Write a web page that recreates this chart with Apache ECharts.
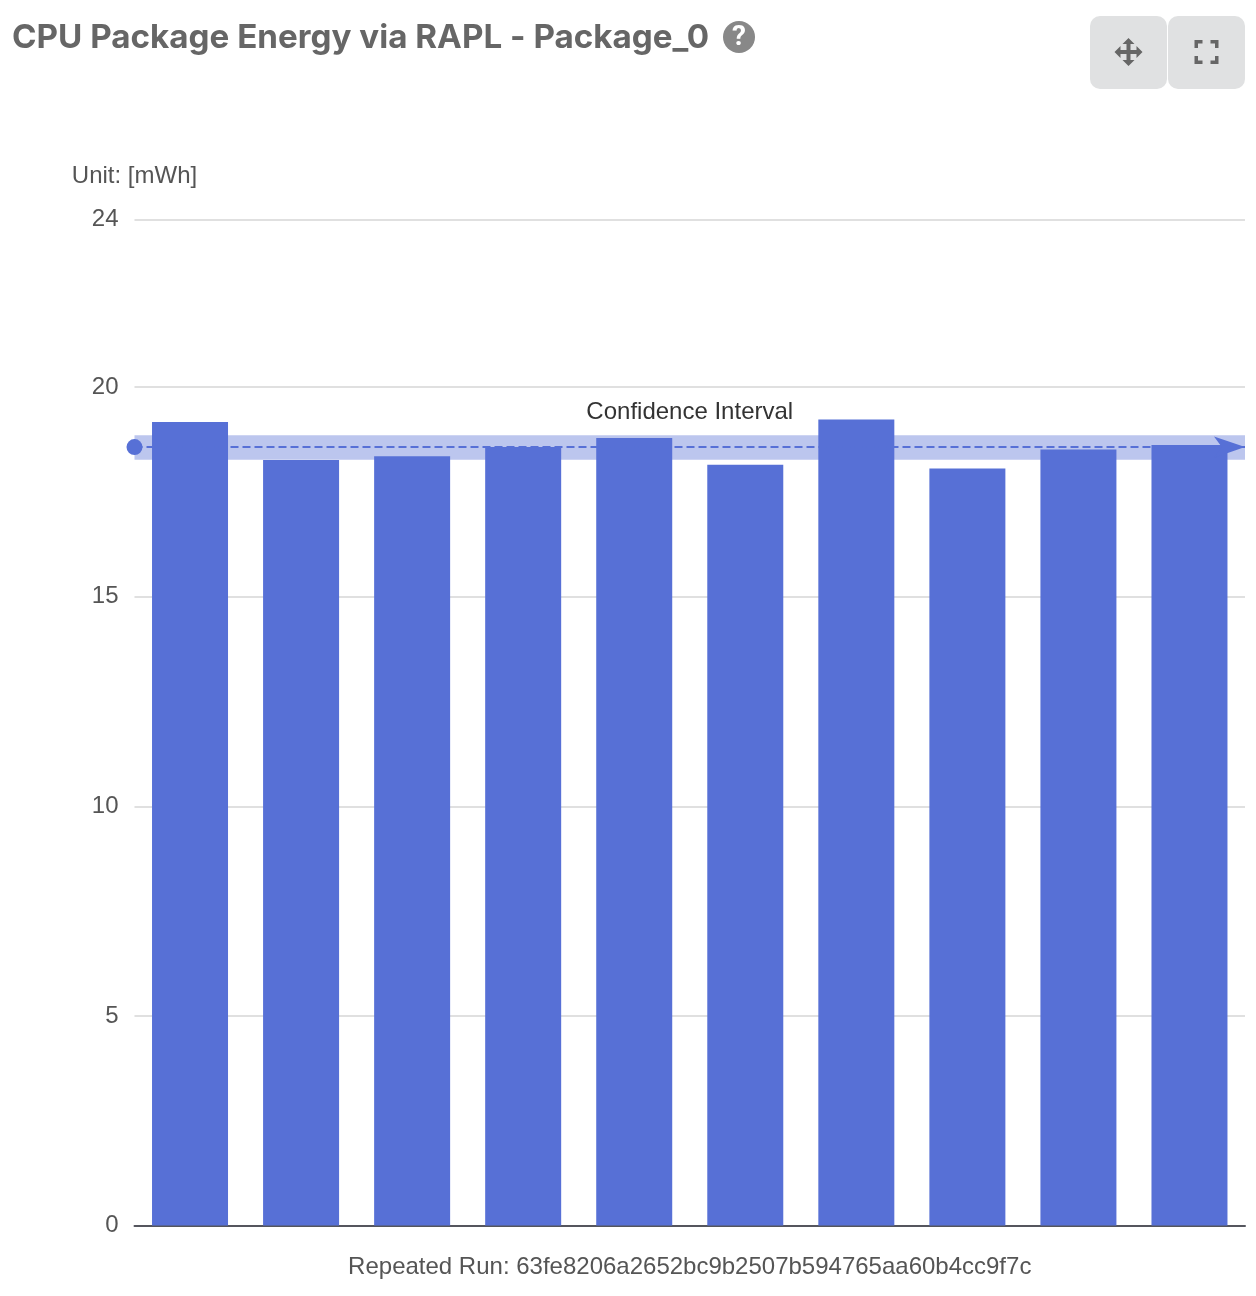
<!DOCTYPE html>
<html>
<head>
<meta charset="utf-8">
<title>CPU Package Energy via RAPL - Package_0</title>
<script src="https://cdn.jsdelivr.net/npm/echarts@6/dist/echarts.min.js"></script>
<style>
    html, body { margin: 0; padding: 0; background: #fff; }
    #chart { width: 1256px; height: 1296px; }
</style>
</head>
<body>
<div id="chart"></div>
<script>
const runs = ['1', '2', '3', '4', '5', '6', '7', '8', '9', '10'];
const energy = [19.17, 18.26, 18.35, 18.57, 18.79, 18.15, 19.23, 18.06, 18.51, 18.62];
const meanEnergy = 18.57;
const confidenceLow = 18.27;
const confidenceHigh = 18.85;
const yTicks = [0, 5, 10, 15, 20, 24];

const chartTitle = 'CPU Package Energy via RAPL - Package_0';
const unitName = 'Unit: [mWh]';
const xName = 'Repeated Run: 63fe8206a2652bc9b2507b594765aa60b4cc9f7c';

const barColor = '#5770d6';
const textColor = '#555';
const fontName = '"Liberation Sans", Arial, sans-serif';

// icons of the toolbar, drawn around their own origin
const moveIcon = [[[0, -14], [6, -8], [2, -8], [2, -2], [8, -2], [8, -6], [14, 0], [8, 6], [8, 2], [2, 2], [2, 8], [6, 8], [0, 14], [-6, 8], [-2, 8], [-2, 2], [-8, 2], [-8, 6], [-14, 0], [-8, -6], [-8, -2], [-2, -2], [-2, -8], [-6, -8]]];
const fullIcon = [
    [[-12, -12], [-4, -12], [-4, -8.5], [-8.5, -8.5], [-8.5, -4], [-12, -4]],
    [[12, -12], [12, -4], [8.5, -4], [8.5, -8.5], [4, -8.5], [4, -12]],
    [[12, 12], [4, 12], [4, 8.5], [8.5, 8.5], [8.5, 4], [12, 4]],
    [[-12, 12], [-12, 4], [-8.5, 4], [-8.5, 8.5], [-4, 8.5], [-4, 12]]
];

function toolButton(x, icon) {
    var els = [{ type: 'rect', shape: { x: x, y: 16, width: 77, height: 73, r: 10 }, style: { fill: '#e0e1e2' } }];
    icon.forEach(function (points) {
        els.push({ type: 'polygon', x: x + 38.5, y: 52, shape: { points: points }, style: { fill: '#666' } });
    });
    return els;
}

var myChart = echarts.init(document.getElementById('chart'));
myChart.setOption({
    animation: false,
    title: {
        text: chartTitle,
        left: 7,
        top: 17,
        textStyle: { color: '#666', fontFamily: 'Inter, sans-serif', fontWeight: 700, fontSize: 33.2 }
    },
    graphic: [
        { type: 'circle', shape: { cx: 739, cy: 37, r: 16 }, style: { fill: '#888' } },
        { type: 'text', x: 739, y: 38, style: { text: '?', fill: '#fff', font: 'bold 28px Roboto, sans-serif', align: 'center', verticalAlign: 'middle' } }
    ].concat(toolButton(1090, moveIcon), toolButton(1168, fullIcon)),
    grid: { left: 134.5, right: 11, top: 219.5, bottom: 70.5 },
    xAxis: {
        type: 'category',
        data: runs,
        name: xName,
        nameLocation: 'middle',
        nameGap: 30,
        nameTextStyle: { color: textColor, fontFamily: fontName, fontSize: 24 },
        axisTick: { show: false },
        axisLabel: { show: false },
        axisLine: { lineStyle: { color: '#55565e', width: 2 } }
    },
    yAxis: {
        type: 'value',
        min: yTicks[0],
        max: yTicks[yTicks.length - 1],
        interval: 5,
        name: unitName,
        nameGap: 31,
        nameTextStyle: { color: textColor, fontFamily: fontName, fontSize: 24 },
        axisLabel: { color: textColor, fontFamily: fontName, fontSize: 24, margin: 16, padding: [0, 0, 8, 0] },
        splitLine: { lineStyle: { color: '#e0e0e0', width: 2 } }
    },
    series: [{
        type: 'bar',
        data: energy,
        barWidth: 76,
        itemStyle: { color: barColor },
        z: 3,
        markArea: {
            silent: true,
            z: 1,
            itemStyle: { color: '#bcc6ee' },
            label: { show: true, position: 'top', color: '#333', fontFamily: fontName, fontSize: 24, distance: 11 },
            data: [[
                { name: 'Confidence Interval', yAxis: confidenceHigh },
                { yAxis: confidenceLow }
            ]]
        },
        markLine: {
            silent: true,
            z: 4,
            symbol: ['circle', 'arrow'],
            symbolSize: [16, 31],
            label: { show: false },
            lineStyle: { color: barColor, type: 'dashed', width: 2 },
            data: [{ yAxis: meanEnergy }]
        }
    }]
});
</script>
</body>
</html>
